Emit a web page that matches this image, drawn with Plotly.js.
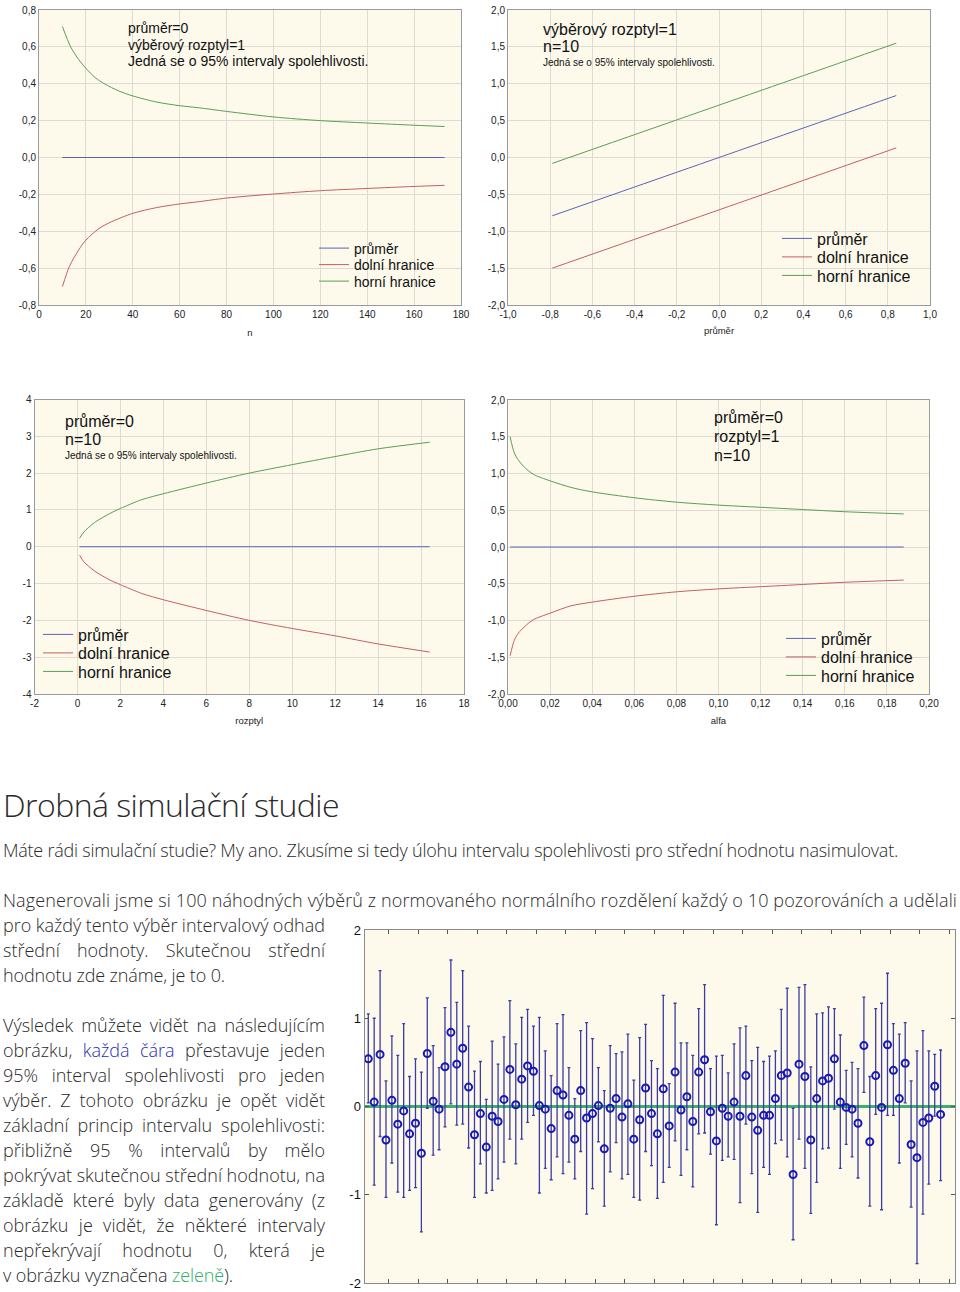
<!DOCTYPE html>
<html><head><meta charset="utf-8">
<script src="https://cdn.plot.ly/plotly-3.0.1.min.js"></script>
<style>
body{margin:0;background:#fff;width:960px;height:1292px;position:relative;overflow:hidden;}
#plot{position:absolute;left:0;top:0;width:960px;height:1292px;}
.t{position:absolute;left:3px;white-space:nowrap;font-family:"Open Sans","Noto Sans",sans-serif;font-weight:300;color:#2a2a2a;font-size:18px;line-height:25px;height:25px;}
.h{font-size:32px;line-height:40px;height:40px;}
.blue{color:#1f2fb0}
.green{color:#2fae6a}
</style></head><body>
<div id="plot"></div>
<div class="t h fit" data-w="336" style="top:785px">Drobná simulační studie</div>
<div class="t fit" data-w="895" style="top:838px">Máte rádi simulační studie? My ano. Zkusíme si tedy úlohu intervalu spolehlivosti pro střední hodnotu nasimulovat.</div>
<div class="t fit" data-w="954" style="top:888px">Nagenerovali jsme si 100 náhodných výběrů z normovaného normálního rozdělení každý o 10 pozorováních a udělali</div>
<div class="t just" data-w="322" style="top:913px">pro každý tento výběr intervalový odhad</div>
<div class="t just" data-w="322" style="top:938px">střední hodnoty. Skutečnou střední</div>
<div class="t fit" data-w="222" style="top:963px">hodnotu zde známe, je to 0.</div>
<div class="t just" data-w="322" style="top:1013px">Výsledek můžete vidět na následujícím</div>
<div class="t just" data-w="322" style="top:1038px">obrázku, <span class="blue">každá čára</span> přestavuje jeden</div>
<div class="t just" data-w="322" style="top:1063px">95% interval spolehlivosti pro jeden</div>
<div class="t just" data-w="322" style="top:1088px">výběr. Z tohoto obrázku je opět vidět</div>
<div class="t just" data-w="322" style="top:1113px">základní princip intervalu spolehlivosti:</div>
<div class="t just" data-w="322" style="top:1138px">přibližně 95 % intervalů by mělo</div>
<div class="t just" data-w="322" style="top:1163px">pokrývat skutečnou střední hodnotu, na</div>
<div class="t just" data-w="322" style="top:1188px">základě které byly data generovány (z</div>
<div class="t just" data-w="322" style="top:1213px">obrázku je vidět, že některé intervaly</div>
<div class="t just" data-w="322" style="top:1238px">nepřekrývají hodnotu 0, která je</div>
<div class="t fit" data-w="230" style="top:1263px">v obrázku vyznačena <span class="green">zeleně</span>).</div>
<script>
// ---------- Chart 1: interval vs n ----------
const n1u = [10,13.5,17,20,24,28,34,40,50,60,68,80,100,120,140,160,173];
const upper1 = [0.71,0.60,0.53,0.484,0.433,0.399,0.361,0.334,0.301,0.281,0.270,0.25,0.22,0.20,0.187,0.175,0.168];
const n1l = [10,13,17,20,25.6,31,40,50,60,68,80,100,120,140,160,173];
const lower1 = [-0.70,-0.59,-0.50,-0.448,-0.385,-0.348,-0.303,-0.272,-0.252,-0.240,-0.22,-0.198,-0.18,-0.168,-0.157,-0.151];
const nMean1 = [10,173];
const mean1 = [0,0];
// ---------- Chart 2: interval vs mean ----------
const x2 = [-0.79,-0.4,0,0.4,0.84];
const mean2 = [-0.79,-0.4,0,0.4,0.84];
const upper2 = [-0.08,0.31,0.71,1.11,1.55];
const lower2 = [-1.50,-1.11,-0.71,-0.31,0.13];
// ---------- Chart 3: interval vs variance ----------
const var3 = [0.1,0.3,0.8,1.5,2,3,4,6,8,10,12,14,16.4];
const upper3 = [0.23,0.40,0.66,0.90,1.04,1.28,1.44,1.73,2.00,2.23,2.45,2.66,2.84];
const lower3 = [-0.23,-0.41,-0.66,-0.90,-1.03,-1.27,-1.44,-1.73,-2.00,-2.22,-2.42,-2.64,-2.86];
const varMean3 = [0.1,16.4];
const mean3 = [0,0];
// ---------- Chart 4: interval vs alpha ----------
const a4 = [0.001,0.003,0.005,0.008,0.012,0.02,0.03,0.04,0.06,0.08,0.10,0.12,0.14,0.16,0.188];
const upper4 = [1.50,1.28,1.18,1.08,0.99,0.90,0.81,0.75,0.67,0.61,0.57,0.54,0.51,0.48,0.45];
const lower4 = [-1.48,-1.27,-1.17,-1.08,-0.99,-0.90,-0.80,-0.75,-0.67,-0.61,-0.57,-0.54,-0.51,-0.48,-0.45];
const aMean4 = [0.001,0.188];
const mean4 = [0,0];
// ---------- Simulation: sample means and 95% CI ----------
const simMeans = [0.54,0.05,0.59,-0.38,0.07,-0.20,-0.05,-0.31,-0.19,-0.53,
 0.60,0.06,-0.03,0.45,0.84,0.48,0.66,0.22,-0.32,-0.08,
 -0.46,-0.11,-0.17,0.08,0.42,0.02,0.31,0.46,0.40,0.01,
 -0.03,-0.25,0.18,0.13,-0.10,-0.37,0.18,-0.13,-0.08,0.01,
 -0.48,-0.02,0.09,-0.12,0.03,-0.37,-0.15,0.21,-0.08,-0.31,
 0.20,-0.22,0.39,-0.04,0.11,-0.17,0.39,0.53,-0.06,-0.39,
 -0.02,-0.11,0.05,-0.11,0.35,-0.12,-0.27,-0.10,-0.10,0.09,
 0.35,0.38,-0.77,0.48,0.34,-0.38,0.09,0.29,0.32,0.54,
 0.05,-0.01,-0.03,-0.19,0.69,-0.40,0.35,-0.01,0.70,0.41,
 0.09,0.49,-0.43,-0.58,-0.18,-0.13,0.23,-0.09];
const simUpper = [1.05,1.00,1.54,0.29,0.80,0.58,0.94,0.34,0.54,0.39,
 1.23,0.69,0.44,1.12,1.66,1.18,1.54,0.91,0.40,0.51,
 0.08,0.74,0.48,0.79,1.20,0.71,1.01,1.10,0.91,1.01,
 0.63,0.35,0.94,1.04,0.44,0.09,0.86,0.95,0.77,0.44,
 0.18,0.69,0.60,0.62,0.82,0.30,0.78,0.93,0.52,0.43,
 1.26,0.26,1.17,0.72,0.72,0.58,1.11,1.38,0.43,0.57,
 0.58,0.38,0.71,0.89,0.91,0.52,0.67,0.51,0.57,0.63,
 1.10,1.34,-0.02,1.35,1.38,0.45,1.05,1.06,1.13,1.11,
 0.81,0.41,0.50,0.43,1.24,0.34,1.11,1.17,1.51,0.94,
 0.82,0.95,0.29,0.63,0.86,0.63,0.59,0.64];
const simLower = [0.04,-0.89,-0.34,-1.03,-0.64,-0.97,-1.03,-0.95,-0.92,-1.42,
 -0.02,-0.55,-0.49,-0.23,0.03,-0.21,-0.20,-0.47,-1.03,-0.65,
 -0.98,-0.95,-0.82,-0.63,-0.37,-0.65,-0.37,-0.18,-0.10,-0.98,
 -0.70,-0.83,-0.57,-0.76,-0.63,-0.82,-0.51,-1.22,-0.93,-0.40,
 -1.13,-0.74,-0.41,-0.82,-0.77,-1.03,-1.06,-0.51,-0.67,-1.04,
 -0.86,-0.69,-0.39,-0.78,-0.49,-0.91,-0.31,-0.30,-0.54,-1.34,
 -0.61,-0.57,-0.60,-1.09,-0.20,-0.76,-1.20,-0.69,-0.77,-0.42,
 -0.38,-0.57,-1.51,-0.37,-0.70,-1.21,-0.86,-0.48,-0.47,-0.03,
 -0.70,-0.43,-0.57,-0.81,0.16,-1.13,-0.09,-1.17,-0.10,-0.10,
 -0.64,0.04,-1.14,-1.78,-1.22,-0.88,-0.11,-0.84];
// ---------- tick values ----------
const ticks1x = [0,20,40,60,80,100,120,140,160,180];
const ticks1y = [-0.8,-0.6,-0.4,-0.2,0,0.2,0.4,0.6,0.8];
const ticks2x = [-1,-0.8,-0.6,-0.4,-0.2,0,0.2,0.4,0.6,0.8,1];
const ticks2y = [-2,-1.5,-1,-0.5,0,0.5,1,1.5,2];
const ticks3x = [-2,0,2,4,6,8,10,12,14,16,18];
const ticks3y = [-4,-3,-2,-1,0,1,2,3,4];
const ticks4x = [0,0.02,0.04,0.06,0.08,0.10,0.12,0.14,0.16,0.18,0.20];
const ticks4y = [-2,-1.5,-1,-0.5,0,0.5,1,1.5,2];
const ticks5y = [-2,-1,0,1,2];
const legendNames = ['průměr','dolní hranice','horní hranice'];

const W=960,H=1292;
const fmt = (v,d)=>v.toFixed(d).replace('.',',');
const px = x=>x/W, py = y=>1-y/H;
const C_BLUE='#5f5fb6', C_RED='#c45e5e', C_GREEN='#5a9c5a';
const GRID='#dedcd2', BORDER='#9a9a9a';
const FONT='Liberation Sans, Arial, sans-serif';

function ln(x,y,name,color,xa,ya,leg){
  return {x:x,y:y,name:name,type:'scatter',mode:'lines',line:{color:color,width:1,shape:'spline',smoothing:0.8},
          xaxis:xa,yaxis:ya,legend:leg,hoverinfo:'skip'};
}
function xax(d0,d1,range,tv,dec,anchor,title,standoff){
  return {domain:[px(d0),px(d1)],range:range,tickvals:tv,ticktext:tv.map(v=>fmt(v,dec)),anchor:anchor,
    showgrid:true,gridcolor:GRID,zeroline:false,showline:true,mirror:true,linecolor:BORDER,linewidth:1,
    ticks:'',tickfont:{size:10,color:'#222'},
    title:{text:title,font:{size:9.5,color:'#222'},standoff:standoff}};
}
function yax(t0,t1,range,tv,dec,anchor){
  return {domain:[py(t1),py(t0)],range:range,tickvals:tv,ticktext:tv.map(v=>fmt(v,dec)),anchor:anchor,
    showgrid:true,gridcolor:GRID,zeroline:false,showline:true,mirror:true,linecolor:BORDER,linewidth:1,
    ticks:'',tickfont:{size:10,color:'#222'}};
}

const traces = [
  ln(nMean1,mean1,legendNames[0],C_BLUE,'x','y','legend'),
  ln(n1l,lower1,legendNames[1],C_RED,'x','y','legend'),
  ln(n1u,upper1,legendNames[2],C_GREEN,'x','y','legend'),
  ln(x2,mean2,legendNames[0],C_BLUE,'x2','y2','legend2'),
  ln(x2,lower2,legendNames[1],C_RED,'x2','y2','legend2'),
  ln(x2,upper2,legendNames[2],C_GREEN,'x2','y2','legend2'),
  ln(varMean3,mean3,legendNames[0],C_BLUE,'x3','y3','legend3'),
  ln(var3,lower3,legendNames[1],C_RED,'x3','y3','legend3'),
  ln(var3,upper3,legendNames[2],C_GREEN,'x3','y3','legend3'),
  ln(aMean4,mean4,legendNames[0],C_BLUE,'x4','y4','legend4'),
  ln(a4,lower4,legendNames[1],C_RED,'x4','y4','legend4'),
  ln(a4,upper4,legendNames[2],C_GREEN,'x4','y4','legend4'),
  {x:simMeans.map((_,i)=>i+1),y:simMeans,type:'scatter',mode:'markers',xaxis:'x5',yaxis:'y5',showlegend:false,
   marker:{symbol:'circle-open',size:7,color:'#1818b4',line:{width:2}},
   error_y:{type:'data',symmetric:false,array:simUpper.map((u,i)=>u-simMeans[i]),
            arrayminus:simLower.map((l,i)=>simMeans[i]-l),color:'#3c3ca2',thickness:1.3,width:1.5},
   hoverinfo:'skip'}
];

function leg(x,y,size){
  return {x:px(x),y:py(y),xanchor:'left',yanchor:'top',bgcolor:'rgba(0,0,0,0)',borderwidth:0,
          font:{size:size,color:'#111',family:FONT},itemwidth:30,tracegroupgap:0};
}
function ann(text,x,y,size){
  return {text:text,x:px(x),y:py(y),xref:'paper',yref:'paper',xanchor:'left',yanchor:'middle',showarrow:false,
          font:{size:size,color:'#111',family:FONT}};
}
const SMALL='Jedná se o 95% intervaly spolehlivosti.';
const layout = {
  width:W,height:H,margin:{l:0,r:0,t:0,b:0},paper_bgcolor:'#fff',plot_bgcolor:'#fdfaec',
  font:{family:FONT,size:10,color:'#222'},showlegend:true,
  xaxis: xax(39,461,[0,180],ticks1x,0,'y','n',10),
  yaxis: yax(10,305,[-0.8,0.8],ticks1y,1,'x'),
  xaxis2: xax(508,930,[-1,1],ticks2x,1,'y2','průměr',8),
  yaxis2: yax(10,305,[-2,2],ticks2y,1,'x2'),
  xaxis3: xax(34.5,464,[-2,18],ticks3x,0,'y3','rozptyl',9),
  yaxis3: yax(399.5,694,[-4,4],ticks3y,0,'x3'),
  xaxis4: xax(508,929,[0,0.2],ticks4x,2,'y4','alfa',9),
  yaxis4: yax(400,694,[-2,2],ticks4y,1,'x4'),
  xaxis5: {domain:[px(364.5),px(955)],range:[0.36,100.44],anchor:'y5',tick0:4.5,dtick:5,ticks:'inside',ticklen:4,
           tickcolor:'#555',showticklabels:false,showgrid:false,zeroline:false,showline:true,mirror:'ticks',linecolor:'#8a8a8a'},
  yaxis5: {domain:[py(1283),py(930)],range:[-2,2],anchor:'x5',tickvals:ticks5y,ticktext:ticks5y.map(v=>fmt(v,0)),
           ticks:'inside',ticklen:4,tickcolor:'#555',showgrid:false,showline:true,mirror:'ticks',linecolor:'#8a8a8a',
           zeroline:true,zerolinecolor:'#3fae72',zerolinewidth:3,tickfont:{size:13,color:'#111'}},
  legend: leg(314,232.5,14),
  legend2: leg(777,221.5,16),
  legend3: leg(38,617.5,16),
  legend4: leg(781,621.5,16),
  annotations:[
    ann('průměr=0',126,28,14), ann('výběrový rozptyl=1',126,45,14), ann(SMALL,126,61,14),
    ann('výběrový rozptyl=1',541,29,16), ann('n=10',541,47,16), ann(SMALL,541,62,10),
    ann('průměr=0',63,421,16), ann('n=10',63,440,16), ann(SMALL,63,455,10),
    ann('průměr=0',712,418,16), ann('rozptyl=1',712,436,16), ann('n=10',712,455,16)
  ]
};
const rowGap = {legend:16.5, legend2:18.5, legend3:18.5, legend4:18.5};
Plotly.newPlot('plot',traces,layout,{staticPlot:true,displayModeBar:false}).then(gd=>{
  // tighten legend row spacing to match the reference
  Object.keys(rowGap).forEach(k=>{
    const g = gd.querySelector('g.'+k);
    if(!g) return;
    const items = g.querySelectorAll('g.traces');
    let y0=null;
    items.forEach((it,i)=>{
      const m=/translate\(\s*([-\d.e]+)[ ,]+([-\d.e]+)\s*\)/.exec(it.getAttribute('transform')||'');
      if(!m) return;
      if(y0===null) y0=+m[2];
      it.setAttribute('transform','translate('+m[1]+','+(y0+i*rowGap[k])+')');
    });
  });
});

// text fitting
document.querySelectorAll('.t').forEach(el=>{
  const target=+el.dataset.w;
  const w=el.getBoundingClientRect().width;
  const txt=el.textContent;
  if(el.classList.contains('just')){
    const spaces=(txt.match(/ /g)||[]).length;
    if(spaces) el.style.wordSpacing=((target-w)/spaces)+'px';
  } else {
    el.style.letterSpacing=((target-w)/txt.length)+'px';
  }
});
</script>
</body></html>
